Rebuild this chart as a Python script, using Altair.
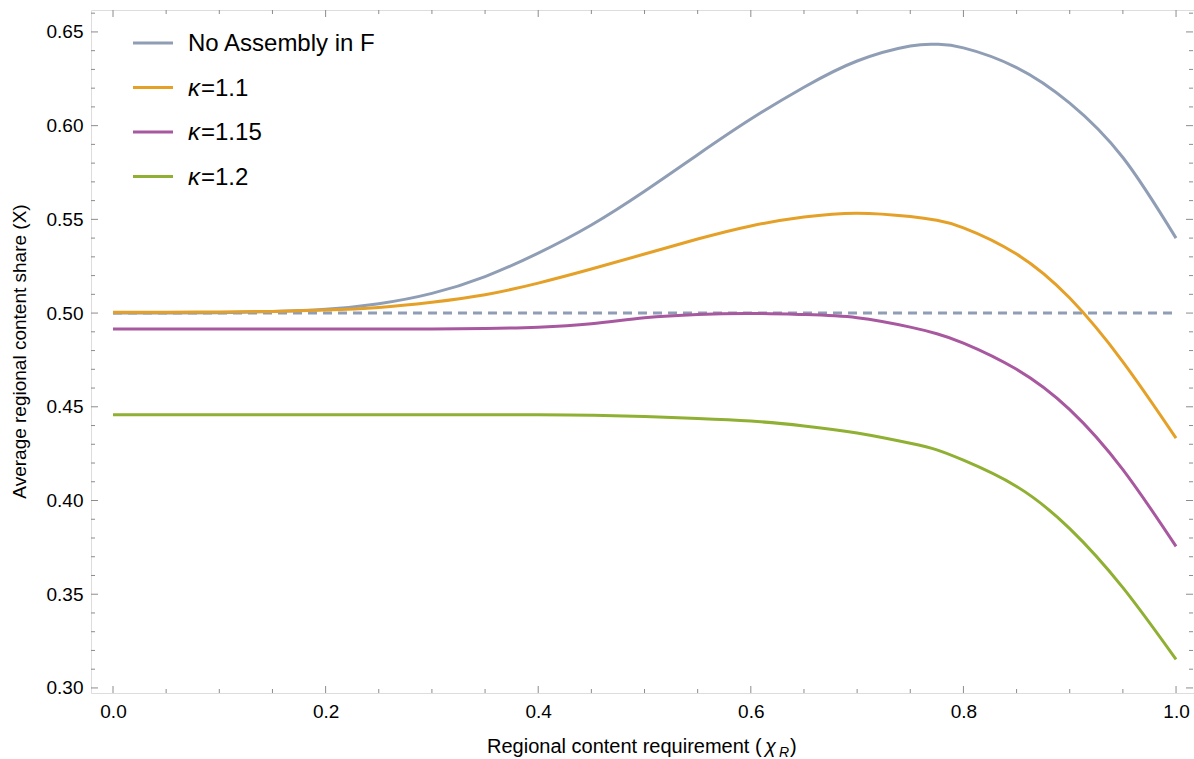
import altair as alt
import pandas as pd

# Regional content requirement (x) and average regional content share per scenario
chi_r = [0.0, 0.05, 0.1, 0.15, 0.2, 0.25, 0.3, 0.35, 0.4, 0.45, 0.5, 0.55,
         0.6, 0.65, 0.7, 0.75, 0.775, 0.8, 0.85, 0.9, 0.95, 1.0]
no_assembly = [0.5000, 0.5000, 0.5002, 0.5008, 0.5020, 0.5050, 0.5105, 0.5195,
               0.5320, 0.5470, 0.5650, 0.5845, 0.6035, 0.6205, 0.6345, 0.6425,
               0.6434, 0.6415, 0.6310, 0.6120, 0.5830, 0.5400]
kappa_110 = [0.5005, 0.5005, 0.5006, 0.5009, 0.5016, 0.5030, 0.5058, 0.5098,
             0.5160, 0.5235, 0.5315, 0.5395, 0.5465, 0.5512, 0.5533, 0.5515,
             0.5495, 0.5455, 0.5315, 0.5080, 0.4740, 0.4333]
kappa_115 = [0.4915, 0.4915, 0.4915, 0.4915, 0.4915, 0.4915, 0.4915, 0.4918,
             0.4925, 0.4943, 0.4975, 0.4993, 0.4998, 0.4992, 0.4975, 0.4925,
             0.4890, 0.4840, 0.4700, 0.4485, 0.4165, 0.3755]
kappa_120 = [0.4458, 0.4458, 0.4458, 0.4458, 0.4458, 0.4458, 0.4458, 0.4458,
             0.4458, 0.4455, 0.4448, 0.4438, 0.4424, 0.4398, 0.4360, 0.4305,
             0.4270, 0.4215, 0.4075, 0.3850, 0.3535, 0.3152]

series_names = ["No Assembly in F", "κ=1.1", "κ=1.15", "κ=1.2"]
series_values = [no_assembly, kappa_110, kappa_115, kappa_120]
series_colors = ["#8f9eb5", "#e5a028", "#a8589f", "#8fb032"]

reference_level = 0.5

x_major = [0.0, 0.2, 0.4, 0.6, 0.8, 1.0]
x_minor = [0.05, 0.1, 0.15, 0.25, 0.3, 0.35, 0.45, 0.5, 0.55, 0.65, 0.7, 0.75,
           0.85, 0.9, 0.95]
y_major = [0.30, 0.35, 0.40, 0.45, 0.50, 0.55, 0.60, 0.65]
y_minor = [0.31, 0.32, 0.33, 0.34, 0.36, 0.37, 0.38, 0.39, 0.41, 0.42, 0.43,
           0.44, 0.46, 0.47, 0.48, 0.49, 0.51, 0.52, 0.53, 0.54, 0.56, 0.57,
           0.58, 0.59, 0.61, 0.62, 0.63, 0.64, 0.66]

W, H = 1103, 683
FONT = "Liberation Sans"
FRAME = "#8c8c8c"

xscale = alt.Scale(domain=[-0.0207, 1.0169], nice=False, zero=False)
yscale = alt.Scale(domain=[0.2973, 0.6617], nice=False, zero=False)

rows = []
for name, vals in zip(series_names, series_values):
    for xv, yv in zip(chi_r, vals):
        rows.append({"chi": xv, "share": yv, "series": name})
curves_df = pd.DataFrame(rows)

curves = alt.Chart(curves_df).mark_line(strokeWidth=3, interpolate="natural").encode(
    x=alt.X("chi:Q", scale=xscale,
            axis=alt.Axis(values=x_major, format=".1f", title=None, ticks=False,
                          domain=False, grid=False, labelFontSize=19,
                          labelFont=FONT, labelColor="black", labelPadding=9)),
    y=alt.Y("share:Q", scale=yscale,
            axis=alt.Axis(values=y_major, format=".2f", title=None, ticks=False,
                          domain=False, grid=False, labelFontSize=19,
                          labelFont=FONT, labelColor="black", labelPadding=8)),
    color=alt.Color("series:N", scale=alt.Scale(domain=series_names,
                                                range=series_colors), legend=None),
    detail="series:N",
)

ref_df = pd.DataFrame({"chi": [0.0, 1.0], "share": [reference_level] * 2})
ref_line = alt.Chart(ref_df).mark_line(
    strokeWidth=3, strokeDash=[9, 6], color=series_colors[0]
).encode(x="chi:Q", y="share:Q")

# Frame ticks drawn inward on all four sides
def xticks(vals, length):
    d = pd.DataFrame({"chi": vals})
    bottom = alt.Chart(d).mark_rule(color=FRAME, strokeWidth=1).encode(
        x="chi:Q", y=alt.value(H), y2=alt.value(H - length))
    top = alt.Chart(d).mark_rule(color=FRAME, strokeWidth=1).encode(
        x="chi:Q", y=alt.value(0), y2=alt.value(length))
    return [bottom, top]

def yticks(vals, length):
    d = pd.DataFrame({"share": vals})
    left = alt.Chart(d).mark_rule(color=FRAME, strokeWidth=1).encode(
        y="share:Q", x=alt.value(0), x2=alt.value(length))
    right = alt.Chart(d).mark_rule(color=FRAME, strokeWidth=1).encode(
        y="share:Q", x=alt.value(W - 1), x2=alt.value(W - 1 - length))
    return [left, right]

tick_layers = (xticks(x_major, 7) + xticks(x_minor, 4)
               + yticks(y_major, 7) + yticks(y_minor, 4))

# Legend in the upper-left corner
LEG_FS = 24
legend_layers = []
for i, (name, color) in enumerate(zip(series_names, series_colors)):
    yc = 33 + i * 44.5
    d = pd.DataFrame({"label": [name]})
    legend_layers.append(alt.Chart(d).mark_rule(color=color, strokeWidth=3).encode(
        x=alt.value(42), x2=alt.value(82), y=alt.value(yc)))
    if name.startswith("κ"):
        legend_layers.append(alt.Chart(d).mark_text(
            align="left", baseline="middle", font=FONT, fontSize=LEG_FS,
            fontStyle="italic", color="black", text="κ", dy=1
        ).encode(x=alt.value(97), y=alt.value(yc)))
        legend_layers.append(alt.Chart(d).mark_text(
            align="left", baseline="middle", font=FONT, fontSize=LEG_FS,
            color="black", text=name[1:], dy=1
        ).encode(x=alt.value(110), y=alt.value(yc)))
    else:
        legend_layers.append(alt.Chart(d).mark_text(
            align="left", baseline="middle", font=FONT, fontSize=LEG_FS,
            color="black", dy=1
        ).encode(x=alt.value(97), y=alt.value(yc), text="label:N"))

# Axis titles
one = pd.DataFrame({"k": [0]})
xt_base = 743
title_layers = [
    alt.Chart(one).mark_text(align="left", baseline="alphabetic", font=FONT,
                             fontSize=20, color="black",
                             text="Regional content requirement (").encode(
        x=alt.value(396), y=alt.value(xt_base)),
    alt.Chart(one).mark_text(align="left", baseline="alphabetic", font=FONT,
                             fontSize=20, fontStyle="italic", color="black",
                             text="χ").encode(
        x=alt.value(674), y=alt.value(xt_base)),
    alt.Chart(one).mark_text(align="left", baseline="alphabetic", font=FONT,
                             fontSize=14, fontStyle="italic", color="black",
                             text="R").encode(
        x=alt.value(688), y=alt.value(xt_base + 4)),
    alt.Chart(one).mark_text(align="left", baseline="alphabetic", font=FONT,
                             fontSize=20, color="black", text=")").encode(
        x=alt.value(699), y=alt.value(xt_base)),
    alt.Chart(one).mark_text(align="center", baseline="middle", font=FONT,
                             fontSize=19, color="black", angle=270,
                             text="Average regional content share (X)").encode(
        x=alt.value(-71), y=alt.value(H / 2)),
]

chart = alt.layer(
    ref_line, curves, *tick_layers, *legend_layers, *title_layers
).properties(
    width=W, height=H,
    autosize=alt.AutoSizeParams(type="none"),
    padding={"left": 91, "top": 10, "right": 0, "bottom": 66},
).configure_view(
    stroke=FRAME, strokeWidth=1
).configure(background="white")

chart.save("out.html", embed_options={"renderer": "svg", "actions": False})
